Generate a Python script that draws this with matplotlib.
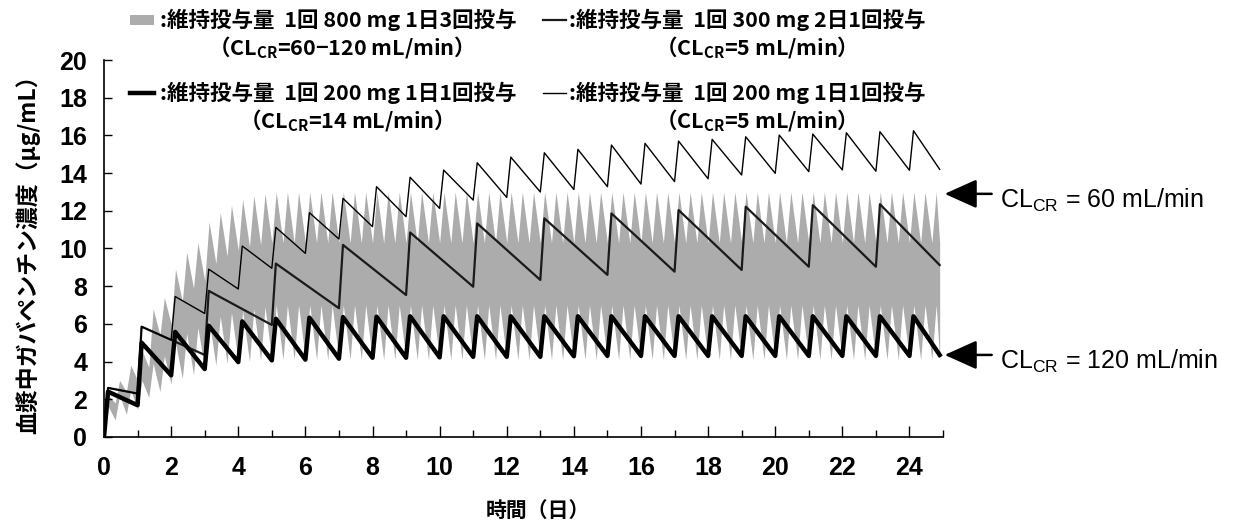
"""
Gabapentin plasma concentration simulation chart (reproduction).
"""

import numpy as np
import matplotlib
matplotlib.use("Agg")
import matplotlib.pyplot as plt
from matplotlib.patches import Rectangle
from matplotlib.lines import Line2D


CJK = ["Noto Sans CJK JP", "DejaVu Sans"]
NUM = ["Liberation Sans Narrow", "Liberation Sans", "DejaVu Sans"]

# 800 mg TID band (CL_CR 60 / 120), values at each dose (3 per day)
TID_DOSES_PER_DAY = 3
C60_PEAKS = [
    2.2, 3.0, 3.8, 4.6, 6.8, 7.4, 8.9, 9.8, 10.3, 11.4, 11.9, 12.3,
    12.6, 12.8, 12.9, 13.0, 13.0, 13.0, 13.0, 13.0, 13.0, 13.0, 13.0, 13.0,
    13.0, 13.0, 13.0, 13.0, 13.0, 13.0, 13.0, 13.0, 13.0, 13.0, 13.0, 13.0,
    13.0, 13.0, 13.0, 13.0, 13.0, 13.0, 13.0, 13.0, 13.0, 13.0, 13.0, 13.0,
    13.0, 13.0, 13.0, 13.0, 13.0, 13.0, 13.0, 13.0, 13.0, 13.0, 13.0, 13.0,
    13.0, 13.0, 13.0, 13.0, 13.0, 13.0, 13.0, 13.0, 13.0, 13.0, 13.0, 13.0,
    13.0, 13.0, 13.0,
]
C60_TROUGHS = [
    0.0, 1.8, 2.4, 3.0, 3.7, 5.4, 6.0, 7.2, 7.9, 8.3, 9.2, 9.6,
    9.9, 10.1, 10.2, 10.3, 10.3, 10.3, 10.3, 10.3, 10.3, 10.3, 10.3, 10.3,
    10.3, 10.3, 10.3, 10.3, 10.3, 10.3, 10.3, 10.3, 10.3, 10.3, 10.3, 10.3,
    10.3, 10.3, 10.3, 10.3, 10.3, 10.3, 10.3, 10.3, 10.3, 10.3, 10.3, 10.3,
    10.3, 10.3, 10.3, 10.3, 10.3, 10.3, 10.3, 10.3, 10.3, 10.3, 10.3, 10.3,
    10.3, 10.3, 10.3, 10.3, 10.3, 10.3, 10.3, 10.3, 10.3, 10.3, 10.3, 10.3,
    10.3, 10.3, 10.3,
]
C120_PEAKS = [
    1.6, 2.2, 2.5, 3.0, 3.9, 4.3, 5.0, 5.5, 5.8, 6.2, 6.4, 6.6,
    6.7, 6.8, 6.9, 7.0, 7.0, 7.0, 7.0, 7.0, 7.0, 7.0, 7.0, 7.0,
    7.0, 7.0, 7.0, 7.0, 7.0, 7.0, 7.0, 7.0, 7.0, 7.0, 7.0, 7.0,
    7.0, 7.0, 7.0, 7.0, 7.0, 7.0, 7.0, 7.0, 7.0, 7.0, 7.0, 7.0,
    7.0, 7.0, 7.0, 7.0, 7.0, 7.0, 7.0, 7.0, 7.0, 7.0, 7.0, 7.0,
    7.0, 7.0, 7.0, 7.0, 7.0, 7.0, 7.0, 7.0, 7.0, 7.0, 7.0, 7.0,
    7.0, 7.0, 7.0,
]
C120_TROUGHS = [
    0.0, 0.9, 1.2, 1.45, 2.1, 2.4, 2.8, 3.1, 3.3, 3.6, 3.8, 3.9,
    4.0, 4.0, 4.05, 4.1, 4.1, 4.1, 4.1, 4.1, 4.1, 4.1, 4.1, 4.1,
    4.1, 4.1, 4.1, 4.1, 4.1, 4.1, 4.1, 4.1, 4.1, 4.1, 4.1, 4.1,
    4.1, 4.1, 4.1, 4.1, 4.1, 4.1, 4.1, 4.1, 4.1, 4.1, 4.1, 4.1,
    4.1, 4.1, 4.1, 4.1, 4.1, 4.1, 4.1, 4.1, 4.1, 4.1, 4.1, 4.1,
    4.1, 4.1, 4.1, 4.1, 4.1, 4.1, 4.1, 4.1, 4.1, 4.1, 4.1, 4.1,
    4.1, 4.1, 4.1,
]
C60_END, C120_END = 10.3, 4.1

# 200 mg once daily, CL_CR 5 (thin line)
Q1D_CL5_PEAKS = [2.6, 5.85, 7.45, 8.9, 10.13, 11.12, 11.9, 12.66, 13.28, 13.78,
                 14.16, 14.55, 14.85, 15.08, 15.26, 15.49, 15.58, 15.7, 15.79,
                 15.93, 16.02, 16.07, 16.14, 16.2, 16.25]
Q1D_CL5_TROUGHS = [0.0, 2.3, 5.15, 6.55, 7.85, 8.95, 9.74, 10.5, 11.16, 11.69,
                   12.13, 12.57, 12.71, 13.0, 13.13, 13.28, 13.42, 13.55, 13.7,
                   13.9, 13.99, 14.08, 14.17, 14.1, 14.15]
Q1D_CL5_END = 14.2

# 200 mg once daily, CL_CR 14 (thick line)
Q1D_CL14_PEAKS = [2.4, 5.0, 5.57, 5.9, 6.13, 6.27, 6.33, 6.36, 6.38, 6.4,
                  6.4, 6.4, 6.4, 6.4, 6.4, 6.4, 6.4, 6.4, 6.4, 6.4,
                  6.4, 6.4, 6.4, 6.4, 6.4]
Q1D_CL14_TROUGHS = [0.0, 1.68, 3.27, 3.6, 3.97, 4.06, 4.1, 4.15, 4.2, 4.2,
                    4.22, 4.25, 4.25, 4.25, 4.28, 4.3, 4.3, 4.3, 4.3, 4.3,
                    4.3, 4.3, 4.3, 4.3, 4.3]
Q1D_CL14_END = 4.35

# 300 mg every 2 days, CL_CR 5 (medium line)
Q2D_DAYS = [0, 1, 3, 5, 7, 9, 11, 13, 15, 17, 19, 21, 23]
Q2D_PEAKS = [2.6, 5.85, 7.75, 9.2, 10.19, 10.85, 11.33, 11.6, 11.86, 12.04,
             12.22, 12.3, 12.35]
Q2D_TROUGHS = [0.0, 2.3, 4.35, 5.94, 6.83, 7.53, 7.97, 8.33, 8.6, 8.77,
               8.86, 9.03, 9.03]
Q2D_END = 9.12

END_DAY = 24.9
RISE = 0.12  # days from dose to peak


def sawtooth(dose_days, troughs, peaks, end_value, rise=RISE):
    """Join trough (at dose) -> peak -> next trough vertices."""
    t, c = [], []
    for d, lo, hi in zip(dose_days, troughs, peaks):
        t += [d, d + rise]
        c += [lo, hi]
    t.append(END_DAY)
    c.append(end_value)
    return np.array(t), np.array(c)


fig = plt.figure(figsize=(12.34, 5.27), dpi=100)
ax = fig.add_axes([0.0843, 0.171, 0.6799, 0.715])

BAND_GRAY = "#acacac"
tid_days = np.arange(len(C60_PEAKS)) / TID_DOSES_PER_DAY
t60, c60 = sawtooth(tid_days, C60_TROUGHS, C60_PEAKS, C60_END, rise=0.13)
t120, c120 = sawtooth(tid_days, C120_TROUGHS, C120_PEAKS, C120_END, rise=0.13)
ax.fill_between(t60, c120, c60, color=BAND_GRAY, lw=0, zorder=1)

q1d_days = np.arange(len(Q1D_CL5_PEAKS))
t, c = sawtooth(Q2D_DAYS, Q2D_TROUGHS, Q2D_PEAKS, Q2D_END)
ax.plot(t, c, color="#1a1a1a", lw=1.6, zorder=3, solid_joinstyle="round")
t, c = sawtooth(q1d_days, Q1D_CL5_TROUGHS, Q1D_CL5_PEAKS, Q1D_CL5_END)
ax.plot(t, c, color="black", lw=1.0, zorder=4, solid_joinstyle="round")
t, c = sawtooth(q1d_days, Q1D_CL14_TROUGHS, Q1D_CL14_PEAKS, Q1D_CL14_END)
ax.plot(t, c, color="black", lw=3.2, zorder=5, solid_joinstyle="round")

# axes
ax.set_xlim(0, 25)
ax.set_ylim(0, 20)
for s in ("top", "right"):
    ax.spines[s].set_visible(False)
for s in ("left", "bottom"):
    ax.spines[s].set_linewidth(1.2)
ax.set_xticks(np.arange(0, 25, 2))
ax.set_xticks(np.arange(1, 26, 2), minor=True)
ax.set_yticks(np.arange(0, 21, 2))
ax.tick_params(axis="x", which="major", direction="in", length=8, width=1.0, pad=14)
ax.tick_params(axis="x", which="minor", direction="in", length=5, width=1.0)
ax.tick_params(axis="y", direction="in", length=6, width=1.0, pad=12)
for lab in ax.get_xticklabels() + ax.get_yticklabels():
    lab.set_family(NUM)
    lab.set_fontsize(18)
    lab.set_fontweight("bold")

ax.set_ylabel("血漿中ガバペンチン濃度（μg/mL）", family=CJK, fontsize=16.5,
              fontweight="bold", labelpad=14)
fig.text(0.436, 0.032, "時間（日）", family=CJK, fontsize=15,
         fontweight="bold", ha="center", va="center")

# legend drawn in figure coordinates
leg_kw = dict(family=CJK, fontsize=15.5, fontweight="bold", va="center")
COL1_X, COL2_X = 0.1295, 0.4615
ROW1_Y, ROW2_Y = 0.962, 0.823
SUB_DY = 0.052
fig.patches.append(Rectangle((0.1055, ROW1_Y - 0.01), 0.019, 0.02,
                             transform=fig.transFigure,
                             facecolor=BAND_GRAY, edgecolor="none"))
fig.text(COL1_X, ROW1_Y, ":維持投与量  1回 800 mg 1日3回投与", **leg_kw)
fig.text(0.272, ROW1_Y - SUB_DY, "（CL$_{\\mathregular{CR}}$=60−120 mL/min）",
         ha="center", **leg_kw)
fig.lines.append(Line2D([0.44, 0.459], [ROW1_Y, ROW1_Y], transform=fig.transFigure,
                        color="#1a1a1a", lw=1.6))
fig.text(COL2_X, ROW1_Y, ":維持投与量  1回 300 mg 2日1回投与", **leg_kw)
fig.text(0.608, ROW1_Y - SUB_DY, "（CL$_{\\mathregular{CR}}$=5 mL/min）",
         ha="center", **leg_kw)
fig.lines.append(Line2D([0.1055, 0.1245], [ROW2_Y, ROW2_Y], transform=fig.transFigure,
                        color="black", lw=3.2))
fig.text(COL1_X, ROW2_Y, ":維持投与量  1回 200 mg 1日1回投与", **leg_kw)
fig.text(0.276, ROW2_Y - SUB_DY, "（CL$_{\\mathregular{CR}}$=14 mL/min）",
         ha="center", **leg_kw)
fig.lines.append(Line2D([0.44, 0.459], [ROW2_Y, ROW2_Y], transform=fig.transFigure,
                        color="black", lw=1.0))
fig.text(COL2_X, ROW2_Y, ":維持投与量  1回 200 mg 1日1回投与", **leg_kw)
fig.text(0.608, ROW2_Y - SUB_DY, "（CL$_{\\mathregular{CR}}$=5 mL/min）",
         ha="center", **leg_kw)

# right-hand annotations
for yv, label in ((12.9, "60"), (4.35, "120")):
    ax.annotate("", xy=(25.05, yv), xytext=(26.45, yv), annotation_clip=False,
                arrowprops=dict(arrowstyle="-|>,head_length=1.0,head_width=0.45",
                                color="black", lw=1.8, mutation_scale=20,
                                shrinkA=0, shrinkB=0))
    ax.text(26.7, yv - 0.35, "CL$_{\\mathregular{CR}}$ = " + label + " mL/min",
            family=["Liberation Sans", "DejaVu Sans"], fontsize=18,
            va="center", ha="left", clip_on=False)

fig.savefig("out.png", dpi=100)
